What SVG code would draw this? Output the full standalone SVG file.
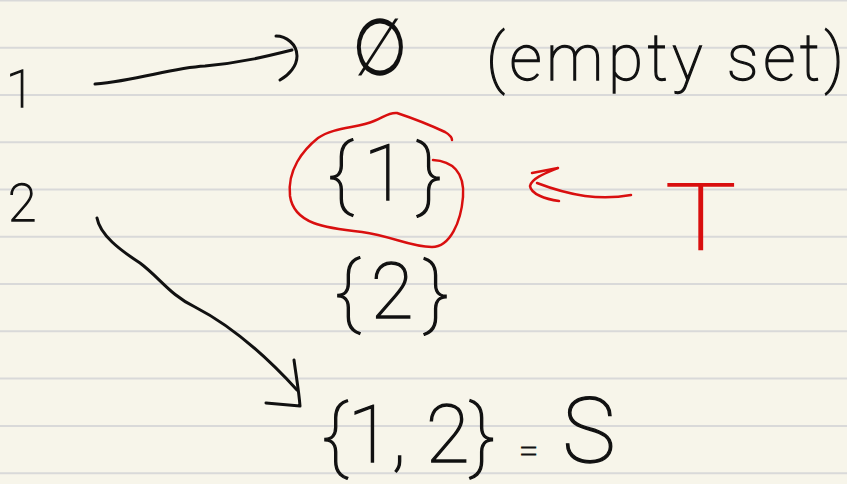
<svg xmlns="http://www.w3.org/2000/svg" width="847" height="484" viewBox="0 0 847 484">
<style>
.rule{stroke:#d9d9d9;stroke-width:2}
.ink{fill:none;stroke:#111;stroke-width:3;stroke-linecap:round;stroke-linejoin:round}
.red{fill:none;stroke:#d90f0f;stroke-width:2.5;stroke-linecap:round;stroke-linejoin:round}
.t{font-family:Roboto,"Liberation Sans",sans-serif;font-weight:100;fill:#111;stroke:#111;stroke-width:1.3}
</style>
<rect width="847" height="484" fill="#f7f5ea"/>
<g id="rules">
<line class="rule" x1="0" y1="0.5" x2="847" y2="0.5"/>
<line class="rule" x1="0" y1="47.7" x2="847" y2="47.7"/>
<line class="rule" x1="0" y1="95" x2="847" y2="95"/>
<line class="rule" x1="0" y1="142.3" x2="847" y2="142.3"/>
<line class="rule" x1="0" y1="189.5" x2="847" y2="189.5"/>
<line class="rule" x1="0" y1="236.8" x2="847" y2="236.8"/>
<line class="rule" x1="0" y1="284" x2="847" y2="284"/>
<line class="rule" x1="0" y1="331.3" x2="847" y2="331.3"/>
<line class="rule" x1="0" y1="378.6" x2="847" y2="378.6"/>
<line class="rule" x1="0" y1="426" x2="847" y2="426"/>
<line class="rule" x1="0" y1="473.3" x2="847" y2="473.3"/>
</g>
<g id="n1"><text class="t" x="6" y="107" font-size="52">1</text></g>
<g id="n2"><text class="t" x="8" y="221" font-size="52">2</text></g>
<g id="emptyset"><text x="0" y="0" font-size="80" transform="translate(352,75) scale(0.8,1)" style="font-family:'DejaVu Sans ExtraLight','DejaVu Sans Light','DejaVu Sans',sans-serif;font-weight:200;fill:#111">∅</text></g>
<g id="emptylabel"><text class="t" x="486" y="80" font-size="64" textLength="358" lengthAdjust="spacing">(empty set)</text></g>
<g id="set1"><text class="t" x="328" y="200" font-size="78" textLength="114" lengthAdjust="spacing">{1}</text></g>
<g id="set2"><text class="t" x="335" y="318" font-size="78" textLength="114" lengthAdjust="spacing">{2}</text></g>
<g id="set12"><text class="t" x="322" y="462" font-size="80">{1, 2}<tspan font-size="34" dx="24">=</tspan><tspan font-size="90" dx="24">S</tspan></text></g>
<g id="T"><text class="t" x="0" y="0" font-size="92" transform="translate(665,250) scale(1.3,1)" style="fill:#d90f0f;stroke:#d90f0f">T</text></g>
<g id="highlight">
<path class="red" d="M433,160 C452,161 465,172 463,197 C461,222 450,247 432,247 C410,247 392,236 362,232 C325,228 294,224 290,196 C287,170 303,150 318,138 C334,127 358,128 374,121 C384,117 389,112 397,113 C412,118 430,125 445,132 C450,135 452,138 452,140"/>
</g>
<g id="connectors">
<path class="ink" d="M95,84 C140,80 170,68 205,66 C240,63 268,56 292,50"/>
<path class="ink" d="M276,36 C286,36 297,44 297,56 C297,66 289,75 280,80"/>
<path class="ink" d="M97,218 C100,235 120,250 140,263 C160,278 170,295 195,307 C230,325 265,355 297,390"/>
<path class="ink" d="M294,360 C296,375 299,392 300,406 L266,403"/>
<path class="red" d="M631,195 C615,198 600,198 585,196 C565,193 550,188 537,183"/>
<path class="red" d="M532,173 L558,168 C546,173 532,178 530,186 C531,194 545,199 559,201"/>
</g>
</svg>
